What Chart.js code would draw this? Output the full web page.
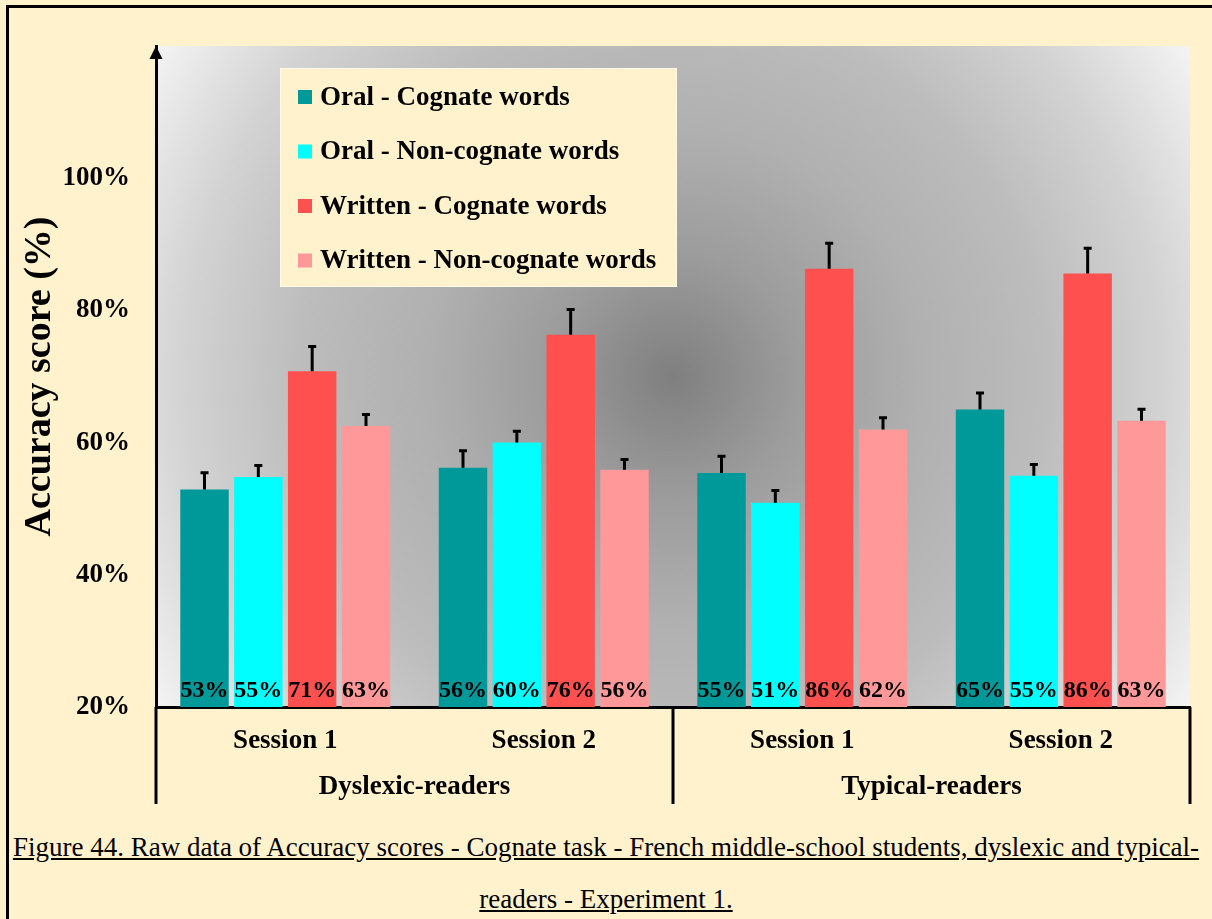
<!DOCTYPE html>
<html>
<head>
<meta charset="utf-8">
<script src="https://cdn.jsdelivr.net/npm/chart.js@4.4.1/dist/chart.umd.min.js"></script>
<style>
  html, body { margin:0; padding:0; background:#FFF2CC; width:1212px; height:919px; overflow:hidden; }
  #frameTop { position:absolute; left:6px; top:5px; width:1206px; height:3px; background:#000; }
  #frameLeft { position:absolute; left:6px; top:5px; width:3px; height:914px; background:#000; }
  #wrap { position:absolute; left:0; top:0; width:1212px; height:820px; }
  #cap { position:absolute; left:0; top:821px; width:1212px; text-align:center;
         font-family:"Liberation Serif","Times New Roman",serif; font-size:27px; line-height:52px;
         text-decoration:underline; white-space:nowrap; color:#000; }
</style>
</head>
<body>
<div id="frameTop"></div>
<div id="frameLeft"></div>
<div id="wrap"><canvas id="chart" width="1212" height="820"></canvas></div>
<div id="cap">Figure 44. Raw data of Accuracy scores - Cognate task - French middle-school students, dyslexic and typical-<br>readers - Experiment 1.</div>
<script>
// accuracy scores (%) per session
const sessions = ['Session 1', 'Session 2', 'Session 1', 'Session 2'];
const groups = ['Dyslexic-readers', 'Typical-readers'];
const seriesNames = ['Oral - Cognate words', 'Oral - Non-cognate words', 'Written - Cognate words', 'Written - Non-cognate words'];
const seriesColors = ['#009999', '#00FFFF', '#FF5050', '#FF9999'];

const oralCognate       = [52.9, 56.2, 55.4, 65.0];
const oralNonCognate    = [54.8, 60.0, 50.9, 55.0];
const writtenCognate    = [70.8, 76.3, 86.3, 85.6];
const writtenNonCognate = [62.5, 55.9, 62.0, 63.3];

// upper error bars
const errOralCognate       = [2.7, 2.7, 2.7, 2.65];
const errOralNonCognate    = [1.9, 1.85, 2.0, 1.85];
const errWrittenCognate    = [3.9, 4.0, 4.0, 3.95];
const errWrittenNonCognate = [1.9, 1.7, 1.9, 1.9];

const yTicks = [20, 40, 60, 80, 100];

const FONT = '"Liberation Serif", "Times New Roman", serif';

const values = [oralCognate, oralNonCognate, writtenCognate, writtenNonCognate];
const errors = [errOralCognate, errOralNonCognate, errWrittenCognate, errWrittenNonCognate];

// background, error bars, value labels, legend box, axis arrow, group dividers
const deco = {
  id: 'deco',
  beforeDraw(chart) {
    const {ctx, chartArea: a} = chart;
    const cx = (a.left + a.right) / 2, cy = (a.top + a.bottom) / 2;
    const r = Math.hypot(a.right - cx, a.bottom - cy);
    const g = ctx.createRadialGradient(cx, cy, 0, cx, cy, r);
    g.addColorStop(0, '#7f7f7f');
    g.addColorStop(0.2, '#9c9c9c');
    g.addColorStop(0.4, '#b0b0b0');
    g.addColorStop(0.6, '#bcbcbc');
    g.addColorStop(0.8, '#d3d3d3');
    g.addColorStop(1, '#f4f4f4');
    ctx.save();
    ctx.fillStyle = g;
    ctx.fillRect(a.left, a.top, a.right - a.left, a.bottom - a.top);
    ctx.restore();
  },
  afterDatasetsDraw(chart) {
    const {ctx, chartArea: a} = chart;
    const y = chart.scales.y;
    ctx.save();
    chart.data.datasets.forEach((ds, di) => {
      const meta = chart.getDatasetMeta(di);
      meta.data.forEach((bar, i) => {
        // error bar (upper only)
        const top = y.getPixelForValue(ds.data[i] + errors[di][i]);
        ctx.strokeStyle = '#000';
        ctx.lineWidth = 3;
        ctx.beginPath();
        ctx.moveTo(bar.x, bar.y);
        ctx.lineTo(bar.x, top);
        ctx.moveTo(bar.x - 4, top + 1);
        ctx.lineTo(bar.x + 4, top + 1);
        ctx.stroke();
        // value label at the bottom of the bar
        ctx.fillStyle = '#000';
        ctx.font = 'bold 24px ' + FONT;
        ctx.textAlign = 'center';
        ctx.textBaseline = 'alphabetic';
        ctx.fillText(Math.round(ds.data[i]) + '%', bar.x, a.bottom - 10);
      });
    });
    // legend box
    const lx = 280, ly = 68, lw = 397, lh = 219;
    ctx.fillStyle = '#FFF2CC';
    ctx.fillRect(lx, ly, lw, lh);
    ctx.strokeStyle = 'rgba(255,255,255,0.5)';
    ctx.lineWidth = 1;
    ctx.strokeRect(lx + 0.5, ly + 0.5, lw - 1, lh - 1);
    ctx.font = 'bold 27px ' + FONT;
    ctx.textAlign = 'left';
    ctx.textBaseline = 'middle';
    chart.data.datasets.forEach((ds, di) => {
      const ry = ly + 29 + di * 54.5;
      ctx.fillStyle = ds.backgroundColor;
      ctx.fillRect(lx + 18, ry - 7, 14, 14);
      ctx.fillStyle = '#000';
      ctx.fillText(ds.label, lx + 40, ry + 1);
    });
    ctx.restore();
  },
  afterDraw(chart) {
    const {ctx, chartArea: a} = chart;
    const x = chart.scales.x, x2 = chart.scales.x2;
    ctx.save();
    // arrow head on the y axis
    ctx.fillStyle = '#000';
    ctx.beginPath();
    ctx.moveTo(a.left, a.top);
    ctx.lineTo(a.left - 6.5, a.top + 13);
    ctx.lineTo(a.left + 6.5, a.top + 13);
    ctx.closePath();
    ctx.fill();
    // dividers under the x axis
    ctx.strokeStyle = '#000';
    ctx.lineWidth = 3;
    ctx.beginPath();
    [-0.5, 1.5, 3.5].forEach(v => {
      const px = x.getPixelForValue(v);
      ctx.moveTo(px, a.bottom);
      ctx.lineTo(px, x2.bottom);
    });
    ctx.stroke();
    ctx.restore();
  }
};

const datasets = seriesNames.map((name, i) => ({
  label: name,
  data: values[i],
  backgroundColor: seriesColors[i],
  borderWidth: 0,
  categoryPercentage: 0.833,
  barPercentage: 0.9
}));

new Chart(document.getElementById('chart'), {
  type: 'bar',
  data: { labels: sessions, datasets },
  plugins: [deco],
  options: {
    responsive: false,
    animation: false,
    events: [],
    layout: { padding: { top: 46, right: 22, left: 0, bottom: 16 } },
    plugins: { legend: { display: false }, tooltip: { enabled: false } },
    scales: {
      y: {
        min: 20, max: 120,
        afterBuildTicks: s => { s.ticks = yTicks.map(v => ({ value: v })); },
        afterFit: s => { s.width = 156; },
        grid: { display: false, drawTicks: false },
        border: { display: true, color: '#000', width: 3 },
        ticks: {
          padding: 26, color: '#000',
          font: { family: FONT, size: 27, weight: 'bold' },
          callback: v => v + '%'
        },
        title: {
          display: true, text: 'Accuracy score (%)', color: '#000',
          font: { family: FONT, size: 38, weight: 'bold' },
          padding: { top: 17, bottom: 0 }
        }
      },
      x: {
        weight: 0,
        afterFit: s => { s.height = 56; },
        grid: { display: false, drawTicks: false },
        border: { display: true, color: '#000', width: 3 },
        ticks: { padding: 18, color: '#000', font: { family: FONT, size: 27, weight: 'bold' } }
      },
      x2: {
        type: 'category',
        position: 'bottom',
        weight: 1,
        labels: groups,
        offset: true,
        afterFit: s => { s.height = 41; },
        grid: { display: false, drawTicks: false },
        border: { display: false },
        ticks: { padding: 8, color: '#000', font: { family: FONT, size: 27, weight: 'bold' } }
      }
    }
  }
});
</script>
</body>
</html>
